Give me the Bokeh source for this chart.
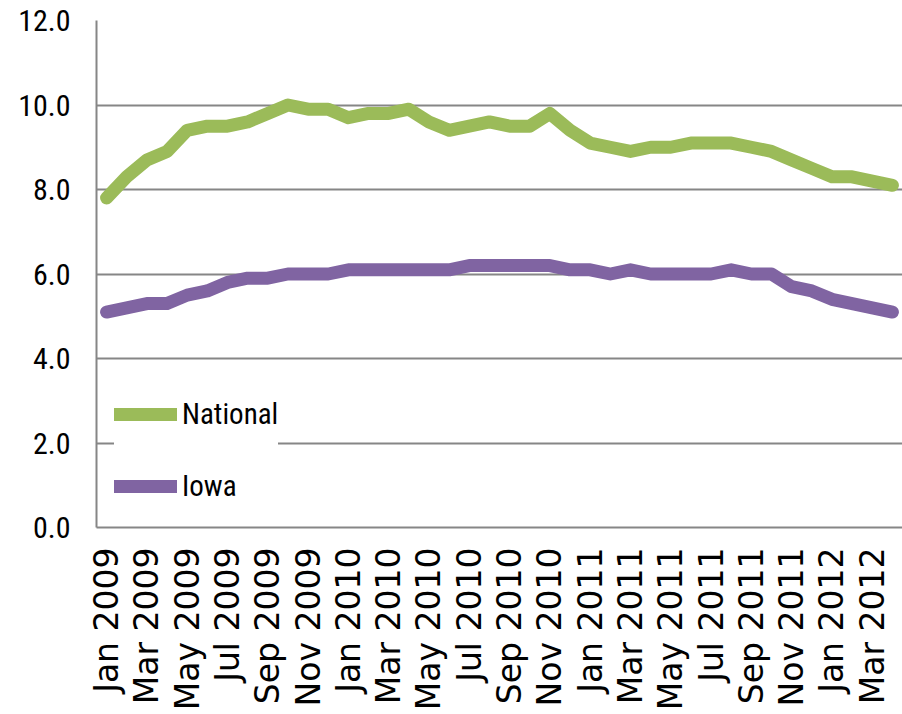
from bokeh.plotting import figure
from bokeh.models import Range1d, FixedTicker, PrintfTickFormatter, Legend, LegendItem
from bokeh.embed import file_html
from bokeh.resources import INLINE
import math

months = ["Jan 2009", "Feb 2009", "Mar 2009", "Apr 2009", "May 2009", "Jun 2009",
          "Jul 2009", "Aug 2009", "Sep 2009", "Oct 2009", "Nov 2009", "Dec 2009",
          "Jan 2010", "Feb 2010", "Mar 2010", "Apr 2010", "May 2010", "Jun 2010",
          "Jul 2010", "Aug 2010", "Sep 2010", "Oct 2010", "Nov 2010", "Dec 2010",
          "Jan 2011", "Feb 2011", "Mar 2011", "Apr 2011", "May 2011", "Jun 2011",
          "Jul 2011", "Aug 2011", "Sep 2011", "Oct 2011", "Nov 2011", "Dec 2011",
          "Jan 2012", "Feb 2012", "Mar 2012", "Apr 2012"]

national = [7.8, 8.3, 8.7, 8.9, 9.4, 9.5, 9.5, 9.6, 9.8, 10.0, 9.9, 9.9,
            9.7, 9.8, 9.8, 9.9, 9.6, 9.4, 9.5, 9.6, 9.5, 9.5, 9.8, 9.4,
            9.1, 9.0, 8.9, 9.0, 9.0, 9.1, 9.1, 9.1, 9.0, 8.9, 8.7, 8.5,
            8.3, 8.3, 8.2, 8.1]

iowa = [5.1, 5.2, 5.3, 5.3, 5.5, 5.6, 5.8, 5.9, 5.9, 6.0, 6.0, 6.0,
        6.1, 6.1, 6.1, 6.1, 6.1, 6.1, 6.2, 6.2, 6.2, 6.2, 6.2, 6.1,
        6.1, 6.0, 6.1, 6.0, 6.0, 6.0, 6.0, 6.1, 6.0, 6.0, 5.7, 5.6,
        5.4, 5.3, 5.2, 5.1]

y_ticks = [0, 2, 4, 6, 8, 10, 12]

x = list(range(len(months)))
tick_idx = list(range(0, len(months), 2))

GRAY = "#868686"
LABEL_FONT = "Roboto Condensed, DejaVu Sans Condensed, sans-serif"

p = figure(frame_width=806, frame_height=507, output_backend="svg",
           toolbar_location=None, x_range=Range1d(-0.5, 39.5),
           y_range=Range1d(0, 12), min_border_left=96, min_border_top=20,
           min_border_right=0, min_border_bottom=0)
p.outline_line_color = None
p.background_fill_color = "white"
p.border_fill_color = "white"

r_nat = p.line(x, national, line_width=13, line_color="#9BBB59",
               line_join="round", line_cap="round")
r_iowa = p.line(x, iowa, line_width=13, line_color="#8064A2",
                line_join="round", line_cap="round")

# y axis
p.yaxis.ticker = FixedTicker(ticks=y_ticks)
p.yaxis.formatter = PrintfTickFormatter(format="%.1f")
p.yaxis.axis_line_color = GRAY
p.yaxis.axis_line_width = 2
p.yaxis.major_tick_line_color = None
p.yaxis.minor_tick_line_color = None
p.yaxis.major_tick_out = 0
p.yaxis.major_tick_in = 0
p.yaxis.major_label_standoff = 26
p.yaxis.major_label_text_font = LABEL_FONT
p.yaxis.major_label_text_font_size = "30px"
p.yaxis.major_label_text_color = "black"

# x axis
p.xaxis.ticker = FixedTicker(ticks=tick_idx)
p.xaxis.major_label_overrides = {i: months[i] for i in tick_idx}
p.xaxis.major_label_orientation = math.pi / 2
p.xaxis.axis_line_color = GRAY
p.xaxis.axis_line_width = 2
p.xaxis.major_tick_line_color = None
p.xaxis.minor_tick_line_color = None
p.xaxis.major_tick_out = 0
p.xaxis.major_tick_in = 0
p.xaxis.major_label_standoff = 20
p.xaxis.major_label_text_font = "DejaVu Sans"
p.xaxis.major_label_text_font_size = "33px"
p.xaxis.major_label_text_color = "black"

p.xgrid.grid_line_color = None
p.ygrid.ticker = FixedTicker(ticks=y_ticks)
p.ygrid.grid_line_color = GRAY
p.ygrid.grid_line_width = 2

legend = Legend(items=[LegendItem(label="National", renderers=[r_nat]),
                       LegendItem(label="Iowa", renderers=[r_iowa])],
                location=(18, 23), margin=0, padding=12, spacing=36,
                glyph_width=63, glyph_height=36, label_height=36,
                label_standoff=5, border_line_color=None,
                background_fill_color="white", background_fill_alpha=1.0,
                label_text_font=LABEL_FONT, label_text_font_size="29px",
                label_text_color="black")
p.add_layout(legend, "center")

open("out.html", "w").write(file_html(p, INLINE))
